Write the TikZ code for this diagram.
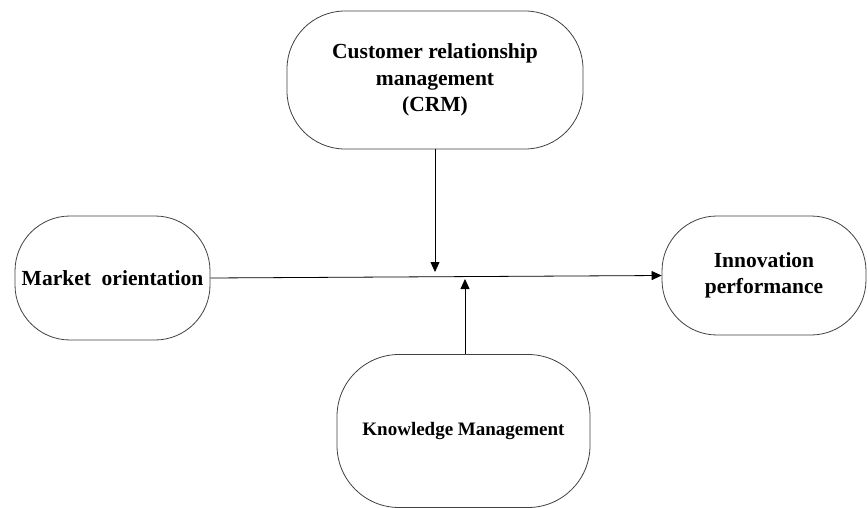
\documentclass[tikz,border=0pt]{standalone}
\usepackage{fontspec}
\setmainfont{Liberation Serif}
\usetikzlibrary{arrows.meta}
\begin{document}
\begin{tikzpicture}[x=1pt,y=-1pt,
  box/.style={draw=black!75, line width=0.8pt, rectangle, align=center, inner sep=0pt,
    font=\fontsize{21.5}{26.5}\selectfont\bfseries},
  conn/.style={draw=black, line width=0.8pt, -{Triangle[length=10pt,width=9pt]}}]
\useasboundingbox (0,0) rectangle (868,508);
\node[box, rounded corners=58pt, minimum width=296pt, minimum height=138pt] (crm) at (435,80)
  {Customer relationship\\management\\(CRM)};
\node[box, rounded corners=55pt, minimum width=195pt, minimum height=124pt] (mo) at (112.5,278)
  {Market\ \ orientation};
\node[box, rounded corners=55pt, minimum width=204pt, minimum height=119pt] (ip) at (764,275.5)
  {Innovation\\performance};
\node[box, rounded corners=62pt, minimum width=253pt, minimum height=153pt,
  font=\fontsize{19}{23}\selectfont\bfseries] (km) at (463.5,431) {Knowledge Management};
\coordinate (crmend) at (435,272);
\coordinate (kmend) at (465,279);
\draw[conn] (mo.east) -- (ip.west);
\draw[conn] (crm.south) -- (crmend);
\draw[conn] (km.north -| kmend) -- (kmend);
\end{tikzpicture}
\end{document}
